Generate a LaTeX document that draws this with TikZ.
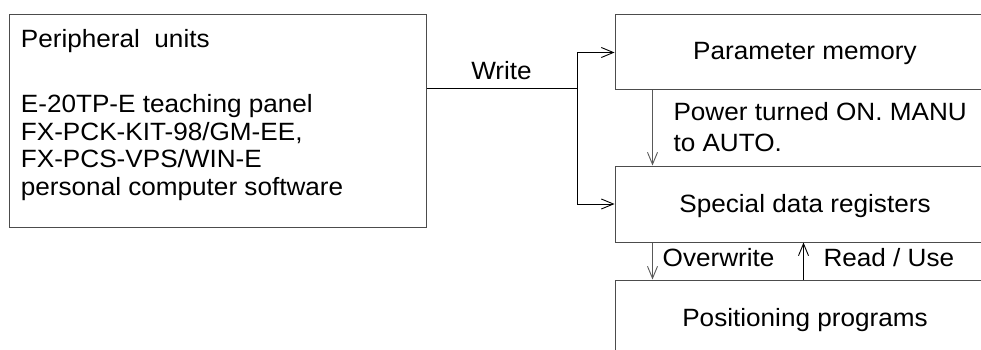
\documentclass[tikz,border=0pt]{standalone}
\usepackage{fontspec}
\setmainfont{Liberation Sans}[FakeStretch=1.045]
\usetikzlibrary{arrows.meta}
\begin{document}
\begin{tikzpicture}[x=1pt,y=-1pt,
  box/.style={draw=black!70, line width=1pt, rectangle, inner sep=0pt},
  txt/.style={inner sep=0pt, font=\fontsize{25}{29}\selectfont},
  conn/.style={line width=1pt, draw=black},
  gconn/.style={line width=1pt, draw=black!65},
  arr/.style={-{Straight Barb[length=12pt,width=10pt,line width=0.9pt]}}
]
\useasboundingbox (0,0) rectangle (981,350);
\begin{scope}
\clip (0,0) rectangle (981,350);
% boxes
\node[box, minimum width=417pt, minimum height=212pt] (periph) at (217.5,121) {};
\node[box, minimum width=380pt, minimum height=75pt] (param) at (805,52.5) {};
\node[box, minimum width=380pt, minimum height=76pt] (special) at (805,204) {};
\node[box, minimum width=380pt, minimum height=120pt] (posn) at (805,340) {};
\end{scope}
% left box text
\node[txt, anchor=base west] (t1) at (20.7,48) {Peripheral\ \ units};
\node[txt, anchor=base west] (t2) at (20.7,112) {E-20TP-E teaching panel};
\node[txt, anchor=base west] (t3) at (20.7,140) {FX-PCK-KIT-98/GM-EE,};
\node[txt, anchor=base west] (t4) at (20.7,167.5) {FX-PCS-VPS/WIN-E};
\node[txt, anchor=base west] (t5) at (20.7,195) {personal computer software};
% right box texts
\node[txt, anchor=base] (tparam) at (805,60) {Parameter memory};
\node[txt, anchor=base] (tspecial) at (805,212) {Special data registers};
\node[txt, anchor=base] (tposn) at (805,326) {Positioning programs};
% labels
\node[txt, anchor=base] (lwrite) at (501.5,80) {Write};
\node[txt, anchor=base west] (lpow1) at (673.3,121) {Power turned ON. MANU};
\node[txt, anchor=base west] (lpow2) at (673.3,151) {to AUTO.};
\node[txt, anchor=base west] (lover) at (662.5,266) {Overwrite};
\node[txt, anchor=base west] (lread) at (823.3,266) {Read / Use};
% connectors
\coordinate (wj) at (577,89);
\draw[conn] (periph.east |- wj) -- (wj);
\draw[conn, arr] (wj) |- (param.west);
\draw[conn, arr] (wj) |- (special.west);
\draw[gconn, arr] ([xshift=38pt]param.south west) -- ([xshift=38pt]param.south west |- special.north);
\draw[gconn, arr] ([xshift=38pt]special.south west) -- ([xshift=38pt]special.south west |- posn.north);
\draw[conn, arr] ([xshift=189pt]posn.north west) -- ([xshift=189pt]posn.north west |- special.south);
\end{tikzpicture}
\end{document}
